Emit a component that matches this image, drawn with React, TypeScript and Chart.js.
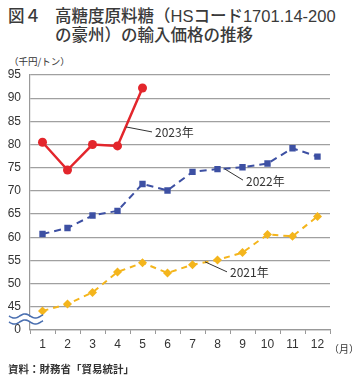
import React, { useEffect, useRef } from "react";
import { Chart, registerables } from "chart.js";
Chart.register(...registerables);

const months = ["1", "2", "3", "4", "5", "6", "7", "8", "9", "10", "11", "12"];
const values2023 = [80.5, 74.5, 80.0, 79.7, 92.2, null, null, null, null, null, null, null];
const values2022 = [60.7, 62.0, 64.7, 65.7, 71.5, 70.1, 74.1, 74.7, 75.1, 75.9, 79.2, 77.4];
const values2021 = [44.1, 45.6, 48.1, 52.5, 54.5, 52.3, 54.1, 55.1, 56.7, 60.6, 60.2, 64.5];
const seriesNames = ["2023年", "2022年", "2021年"];
// annotation anchors in data coordinates: [index, value]
const annotAnchors: [number, number][] = [[3.34, 83.8], [7.3, 74.7], [6.5, 54.7]];
const annotOffsets: [number, number][] = [[26, 5], [18, 11], [22, 10]];

const FONT = "'Liberation Sans', Arial, sans-serif";
const JP = "'Noto Sans CJK JP', 'Liberation Sans', sans-serif";
const TITLE_FONT = "'Liberation Sans', 'Noto Sans CJK JP', sans-serif";

const annotPlugin = {
  id: "annot",
  afterDatasetsDraw(chart: any) {
    const { ctx, scales } = chart;
    const xs = scales.x, ys = scales.y;
    const step = xs.getPixelForValue(1) - xs.getPixelForValue(0);
    ctx.save();
    annotAnchors.forEach((a, i) => {
      const x0 = xs.getPixelForValue(0) + a[0] * step;
      const y0 = ys.getPixelForValue(a[1]);
      const x1 = x0 + annotOffsets[i][0];
      const y1 = y0 + annotOffsets[i][1];
      ctx.strokeStyle = "#333";
      ctx.lineWidth = 1;
      ctx.beginPath();
      ctx.moveTo(x0, y0);
      ctx.lineTo(x1, y1);
      ctx.stroke();
      ctx.fillStyle = "#333";
      ctx.font = "12px " + JP;
      ctx.textAlign = "left";
      ctx.textBaseline = "middle";
      ctx.fillText(seriesNames[i], x1 + 3, y1 + 1);
    });
    ctx.restore();
  },
  afterDraw(chart: any) {
    const { ctx, chartArea } = chart;
    const yb = chartArea.bottom;
    ctx.save();
    ctx.fillStyle = "#fff";
    ctx.fillRect(9, yb - 13, 36, 5);
    ctx.strokeStyle = "#4a6fb0";
    ctx.lineWidth = 1.6;
    [yb - 14, yb - 8].forEach((yy) => {
      ctx.beginPath();
      for (let k = 0; k <= 34; k++) {
        const x = 9 + k;
        const y = yy + 2 * Math.sin((k / 34) * Math.PI * 3.2);
        if (k === 0) ctx.moveTo(x, y);
        else ctx.lineTo(x, y);
      }
      ctx.stroke();
    });
    ctx.restore();
  },
};

export default function App() {
  const ref = useRef<HTMLCanvasElement>(null);
  useEffect(() => {
    if (!ref.current) return;
    const chart = new Chart(ref.current, {
      type: "line",
      data: {
        labels: months,
        datasets: [
          {
            label: seriesNames[0],
            data: values2023,
            borderColor: "#e3262c",
            backgroundColor: "#e3262c",
            borderWidth: 2.5,
            pointStyle: "circle",
            pointRadius: 4.5,
            pointBorderWidth: 0,
            tension: 0,
          },
          {
            label: seriesNames[1],
            data: values2022,
            borderColor: "#3d50a3",
            backgroundColor: "#3d50a3",
            borderWidth: 2,
            borderDash: [7, 5],
            pointStyle: "rect",
            pointRadius: 4.5,
            pointBorderWidth: 0,
            tension: 0,
          },
          {
            label: seriesNames[2],
            data: values2021,
            borderColor: "#f4b51c",
            backgroundColor: "#f4b51c",
            borderWidth: 2,
            borderDash: [6, 5],
            pointStyle: "rectRot",
            pointRadius: 4.5,
            pointBorderWidth: 0,
            tension: 0,
          },
        ],
      },
      options: {
        animation: false,
        responsive: false,
        maintainAspectRatio: false,
        layout: { padding: { left: 0, right: 34, top: 75, bottom: 0 } },
        plugins: { legend: { display: false }, tooltip: { enabled: false } },
        scales: {
          x: {
            offset: true,
            grid: { offset: true, drawOnChartArea: false, drawTicks: true, tickLength: 4, color: "#999", lineWidth: 1 },
            border: { display: true, color: "#999", width: 1.2 },
            ticks: { color: "#333", font: { size: 12, family: FONT }, padding: 3, maxRotation: 0 },
            afterFit: (s: any) => { s.height = 50; },
          },
          y: {
            min: 40,
            max: 95,
            grid: {
              drawTicks: false,
              color: "#a0a0a0",
              lineWidth: 1.2,
            },
            border: { display: true, color: "#999", width: 1.2 },
            ticks: {
              stepSize: 5,
              color: "#333",
              font: { size: 12, family: FONT },
              padding: 9,
              callback: (v: any) => (v === 40 ? "0" : String(v)),
            },
            afterFit: (s: any) => { s.width = 30; },
          },
        },
      },
      plugins: [annotPlugin],
    });
    return () => chart.destroy();
  }, []);

  const titleStyle: React.CSSProperties = {
    position: "absolute",
    top: 7,
    fontSize: 16.5,
    fontWeight: 500,
    lineHeight: "19px",
    whiteSpace: "nowrap",
    fontFamily: TITLE_FONT,
    color: "#3a3a3a",
  };

  return (
    <div style={{ position: "fixed", left: 0, top: 0, width: 364, height: 380, background: "#fff", color: "#333", fontFamily: JP }}>
      <div style={{ ...titleStyle, left: 8 }}>図４</div>
      <div style={{ ...titleStyle, left: 55 }}>
        高糖度原料糖（HSコード1701.14-200
        <br />
        の豪州）の輸入価格の推移
      </div>
      <div style={{ position: "absolute", left: 9, top: 54, fontSize: 9.5, whiteSpace: "nowrap" }}>（千円/トン）</div>
      <canvas ref={ref} width={364} height={380} style={{ position: "absolute", left: 0, top: 0 }} />
      <div style={{ position: "absolute", left: 329, top: 341, fontSize: 10, whiteSpace: "nowrap" }}>（月）</div>
      <div style={{ position: "absolute", left: 8, top: 361, fontSize: 10.5, fontWeight: 700, whiteSpace: "nowrap" }}>資料：財務省「貿易統計」</div>
    </div>
  );
}
